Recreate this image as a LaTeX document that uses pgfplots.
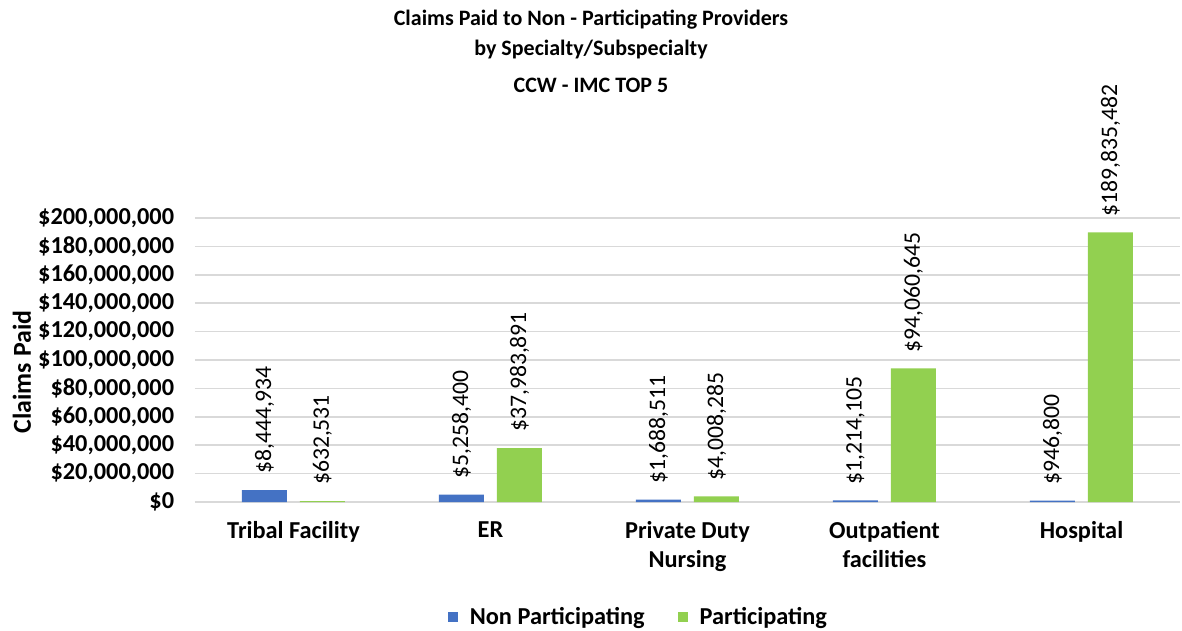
\documentclass[border=0pt]{standalone}
\usepackage{fontspec}
\setmainfont{Carlito}
\usepackage{pgfplots}
\pgfplotsset{compat=1.18}
\definecolor{nonpart}{HTML}{4472C4}
\definecolor{part}{HTML}{92D050}
\definecolor{gridc}{HTML}{D9D9D9}
\newcommand{\lbl}{\fontsize{14.2}{17}\selectfont}
\newcommand{\blbl}{\fontsize{14.6}{17.5}\selectfont\bfseries}

\begin{document}
\begin{tikzpicture}[x=0.6pt,y=0.6pt]
\useasboundingbox (0,0) rectangle (1182,631);
\begin{axis}[
  at={(117pt,77.4pt)}, anchor=south west,
  scale only axis, width=591pt, height=170.4pt,
  ybar=7.8pt, bar width=27pt,
  xmin=-0.5, xmax=4.5, ymin=0, ymax=200000000,
  axis x line*=bottom, axis y line*=left,
  x axis line style={draw=gridc, line width=0.9pt},
  y axis line style={draw=none},
  xtick=data, major tick length=0pt,
  xticklabels={Tribal Facility, ER, Private Duty\\Nursing, Outpatient\\facilities, Hospital},
  xticklabel style={font=\blbl, align=center, yshift=-8pt},
  ytick={0,20000000,...,200000000},
  scaled y ticks=false,
  yticklabels={{\$0},{\$20,000,000},{\$40,000,000},{\$60,000,000},{\$80,000,000},{\$100,000,000},{\$120,000,000},{\$140,000,000},{\$160,000,000},{\$180,000,000},{\$200,000,000}},
  yticklabel style={font=\blbl, xshift=-9pt},
  ymajorgrids, grid style={gridc, line width=0.9pt},
  point meta=explicit symbolic,
  nodes near coords,
  nodes near coords style={font=\lbl, rotate=90, anchor=west, inner sep=0pt},
  every node near coord/.append style={shift={(9.5pt,0pt)}},
  legend style={at={(0.451,-0.405)}, anchor=center, draw=none, font=\blbl,
    legend columns=2, column sep=5pt, /tikz/every even column/.append style={column sep=18pt}},
  legend image code/.code={\fill[#1] (0pt,-3pt) rectangle (6pt,3pt);},
]
\addplot[fill=nonpart, draw=none] coordinates {
  (0,8444934) [\$8,444,934]
  (1,5258400) [\$5,258,400]
  (2,1688511) [\$1,688,511]
  (3,1214105) [\$1,214,105]
  (4,946800) [\$946,800]
};
\addplot[fill=part, draw=none] coordinates {
  (0,632531) [\$632,531]
  (1,37983891) [\$37,983,891]
  (2,4008285) [\$4,008,285]
  (3,94060645) [\$94,060,645]
  (4,189835482) [\$189,835,482]
};
\legend{Non Participating, Participating}
\end{axis}
\node[font=\fontsize{13.2}{16}\selectfont\bfseries] at (591,611) {Claims Paid to Non - Participating Providers};
\node[font=\fontsize{13.2}{16}\selectfont\bfseries] at (591,581) {by Specialty/Subspecialty};
\node[font=\fontsize{13.2}{16}\selectfont\bfseries] at (591,546) {CCW - IMC TOP 5};
\node[font=\fontsize{15.5}{18}\selectfont\bfseries, rotate=90] at (22,259) {Claims Paid};
\end{tikzpicture}
\end{document}
